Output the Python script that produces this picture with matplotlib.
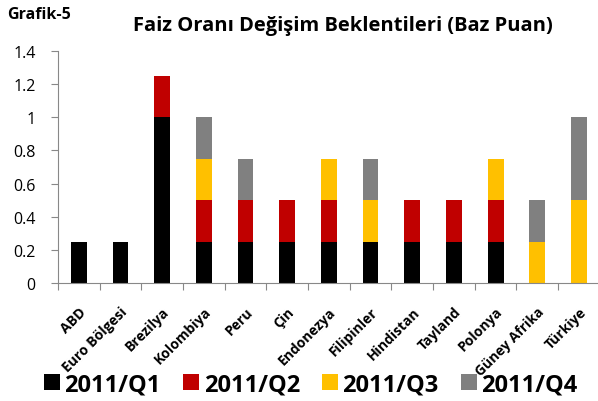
import matplotlib
matplotlib.use("Agg")
import matplotlib.pyplot as plt
import matplotlib.transforms as mtransforms
import numpy as np
from matplotlib.patches import Patch

plt.rcParams['font.family'] = ['Open Sans', 'DejaVu Sans']

categories = ["ABD", "Euro Bölgesi", "Brezilya", "Kolombiya", "Peru", "Çin", "Endonezya",
              "Filipinler", "Hindistan", "Tayland", "Polonya", "Güney Afrika", "Türkiye"]
q1 = [0.25, 0.25, 1.0, 0.25, 0.25, 0.25, 0.25, 0.25, 0.25, 0.25, 0.25, 0, 0]
q2 = [0, 0, 0.25, 0.25, 0.25, 0.25, 0.25, 0, 0.25, 0.25, 0.25, 0, 0]
q3 = [0, 0, 0, 0.25, 0, 0, 0.25, 0.25, 0, 0, 0.25, 0.25, 0.5]
q4 = [0, 0, 0, 0.25, 0.25, 0, 0, 0.25, 0, 0, 0, 0.25, 0.5]
series_names = ["2011/Q1", "2011/Q2", "2011/Q3", "2011/Q4"]
colors = ["#000000", "#C00000", "#FFC000", "#808080"]
yticks = [0, 0.2, 0.4, 0.6, 0.8, 1, 1.2, 1.4]
ytick_labels = ["0", "0.2", "0.4", "0.6", "0.8", "1", "1.2", "1.4"]

fig = plt.figure(figsize=(5.98, 4.02), dpi=100)
ax = fig.add_axes([0.097, 0.293, 0.906, 0.578])

x = np.arange(len(categories))
bottom = np.zeros(len(categories))
for vals, c in zip([q1, q2, q3, q4], colors):
    v = np.array(vals)
    ax.bar(x, v, 0.38, bottom=bottom, color=c, zorder=2)
    bottom += v

ax.set_xlim(-0.5, len(categories) - 0.5)
ax.set_ylim(0, 1.4)
ax.set_yticks(yticks)
ax.set_yticklabels(ytick_labels, fontsize=11.5)
ax.set_xticks(np.arange(len(categories) + 1) - 0.5, minor=False)
ax.set_xticklabels([])
ax.set_xticks(x, minor=True)
ax.set_xticklabels(categories, minor=True, rotation=45, ha='right', va='top',
                   rotation_mode='anchor', fontsize=10, fontweight='bold')
offset = mtransforms.ScaledTranslation(3 / 100, 0, fig.dpi_scale_trans)
for lbl in ax.get_xticklabels(minor=True):
    lbl.set_transform(lbl.get_transform() + offset)
ax.tick_params(axis='x', which='minor', length=0, pad=15)
ax.tick_params(axis='x', which='major', length=5, color='#888888', direction='out')
ax.tick_params(axis='y', length=5, color='#888888', direction='out', pad=11)
for s in ['top', 'right']:
    ax.spines[s].set_visible(False)
for s in ['left', 'bottom']:
    ax.spines[s].set_color('#888888')

fig.text(0.012, 0.963, "Grafik-5", fontsize=11.5, fontweight='bold', ha='left', va='center')
fig.text(0.573, 0.936, "Faiz Oranı Değişim Beklentileri (Baz Puan)", fontsize=14.5,
         fontweight='bold', ha='center', va='center')

handles = [Patch(facecolor=c, edgecolor='none') for c in colors]
fig.legend(handles, series_names, loc='center', bbox_to_anchor=(0.52, 0.042), ncol=4,
           frameon=False, prop={'size': 17, 'weight': 'bold'}, handlelength=0.66,
           handleheight=0.66, handletextpad=0.2, columnspacing=0.95, borderaxespad=0)

fig.savefig("out.png", dpi=100)
